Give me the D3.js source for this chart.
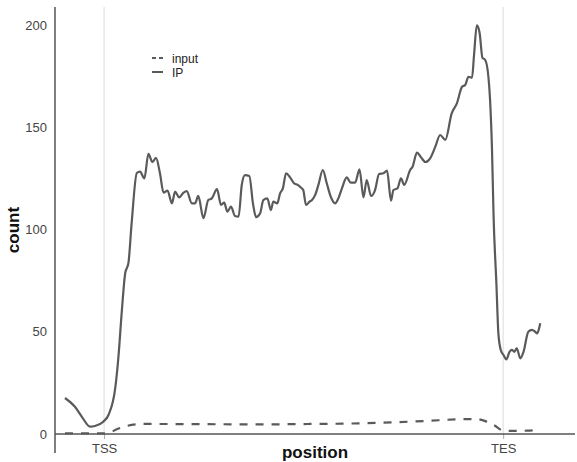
<!DOCTYPE html>
<html>
<head>
<meta charset="utf-8">
<script src="https://cdn.jsdelivr.net/npm/d3@7"></script>
<style>
  html, body { margin: 0; padding: 0; background: #fff; }
  svg { display: block; font-family: "Liberation Sans", Arial, Helvetica, sans-serif; }
</style>
</head>
<body>
<svg id="chart" width="577" height="462"></svg>
<script>
// Metagene profile: gene body scaled to 0..100 (TSS -> TES), 10 units of flank each side.
const ipPosition = [-9.8, -7.3, -5.6, -3.5, -2.3, -0.2, 1.1, 2.8, 3.6, 4.4, 5.3, 6.1, 6.9, 8.2, 9.0, 10.1, 11.1, 12.1, 13.0, 14.0,
  14.9, 15.9, 17.0, 17.8, 18.8, 19.9, 20.7, 22.0, 22.8, 23.6, 24.9, 26.1, 27.0, 28.3, 29.3, 30.1, 30.9, 31.8, 32.8, 33.7,
  34.5, 35.3, 36.4, 37.3, 38.1, 39.1, 39.9, 40.9, 41.8, 42.4, 43.4, 44.1, 44.8, 45.6, 46.6, 47.6, 48.5, 49.3, 49.9, 50.6,
  51.5, 52.1, 52.9, 53.7, 54.8, 55.8, 56.8, 57.9, 58.7, 59.6, 60.8, 61.8, 62.9, 64.0, 65.0, 65.8, 66.9, 67.9, 68.9, 70.0,
  70.9, 71.9, 72.5, 73.5, 74.4, 75.2, 76.7, 77.3, 78.4, 79.6, 80.5, 81.7, 83.0, 84.2, 85.5, 87.1, 88.4, 89.7, 90.5, 91.3,
  92.2, 92.7, 93.4, 94.1, 94.8, 95.5, 96.3, 96.7, 97.2, 97.6, 98.3, 98.8, 99.4, 100.1, 100.8, 101.6, 102.2, 102.8, 103.4, 104.3,
  105.1, 106.3, 107.2, 108.0, 108.5, 108.9, 109.3];
const ipCount = [17.6, 13.3, 8.5, 3.6, 3.9, 6.0, 9.3, 22.5, 37.8, 59.0, 78.7, 83.6, 103.0, 127.6, 128.3, 125.0, 137.0, 133.0, 135.0, 127.5,
  118.0, 119.0, 112.8, 118.5, 115.7, 118.0, 118.8, 112.8, 112.8, 116.4, 105.5, 114.4, 115.2, 119.7, 112.0, 113.1, 108.7, 111.2, 106.6, 106.3,
  121.8, 126.6, 126.2, 112.8, 106.0, 107.9, 114.4, 115.2, 109.5, 113.6, 112.8, 117.7, 120.1, 127.5, 125.5, 122.6, 121.8, 120.5, 119.3, 112.0,
  113.6, 114.4, 116.9, 121.8, 129.1, 122.6, 116.0, 112.8, 115.2, 120.1, 125.5, 122.9, 122.9, 129.4, 115.7, 124.2, 116.4, 119.3, 127.1, 127.5,
  128.8, 114.1, 119.3, 120.1, 125.0, 121.8, 129.1, 130.7, 137.6, 134.8, 133.0, 134.8, 140.5, 146.2, 143.8, 156.8, 161.7, 169.8, 170.7, 174.7,
  174.2, 185.3, 199.8, 196.1, 184.0, 182.9, 174.7, 164.0, 139.3, 106.3, 73.7, 49.2, 41.1, 38.6, 36.5, 40.2, 41.1, 40.2, 41.9, 37.0,
  40.2, 50.0, 50.9, 50.0, 49.2, 50.9, 54.1];

const inputPosition = [-9.8, -0.2, 1.5, 3.2, 5.7, 9.8, 24.1, 39.1, 51.6, 64.2, 72.5, 80.9, 89.2, 93.4, 95.9, 97.6, 100.1, 101.8, 106.0, 109.3];
const inputCount = [0.3, 0.3, 0.8, 2.3, 3.9, 4.9, 4.8, 4.7, 4.9, 5.2, 5.7, 6.4, 7.2, 7.3, 6.0, 4.4, 1.6, 1.5, 1.6, 2.3];

const yTicks = [0, 50, 100, 150, 200];
const xMarks = [0, 100];
const xMarkLabels = ["TSS", "TES"];
const seriesNames = ["input", "IP"];

const svg = d3.select("#chart");
const lineColor = "#5a5a5a";
const axisColor = "#555";

const x = d3.scaleLinear().domain([-12.3, 118]).range([55, 575]);
const y = d3.scaleLinear().domain([-9.3, 208.8]).range([453, 7]);

// TSS / TES guides
svg.append("g").selectAll("line").data(xMarks).join("line")
  .attr("x1", d => x(d)).attr("x2", d => x(d))
  .attr("y1", y.range()[1]).attr("y2", y(0))
  .attr("stroke", "#dcdcdc").attr("stroke-width", 1);

// y axis: labels only, with a long axis line
const yAxis = d3.axisLeft(y).tickValues(yTicks).tickSize(0).tickPadding(8);
const gy = svg.append("g").attr("transform", `translate(${x.range()[0]},0)`).call(yAxis);
gy.select(".domain").remove();
gy.selectAll("text").attr("font-size", 13).attr("fill", "#444")
  .attr("font-family", "Liberation Sans, Arial, sans-serif");
svg.append("line")
  .attr("x1", x.range()[0]).attr("x2", x.range()[0])
  .attr("y1", y.range()[1]).attr("y2", y.range()[0])
  .attr("stroke", axisColor).attr("stroke-width", 1.5);

// x axis at count = 0
const xAxis = d3.axisBottom(x).tickValues(xMarks).tickFormat((d, i) => xMarkLabels[i])
  .tickSize(5).tickPadding(5);
const gx = svg.append("g").attr("transform", `translate(0,${y(0)})`).call(xAxis);
gx.select(".domain").remove();
gx.selectAll(".tick line").attr("stroke", "#aaa");
gx.selectAll("text").attr("font-size", 13).attr("fill", "#444")
  .attr("font-family", "Liberation Sans, Arial, sans-serif");
svg.append("line")
  .attr("x1", x.range()[0]).attr("x2", x.range()[1])
  .attr("y1", y(0)).attr("y2", y(0))
  .attr("stroke", axisColor).attr("stroke-width", 1.5);

// axis titles
svg.append("text").attr("x", 315).attr("y", 458).attr("text-anchor", "middle")
  .attr("font-size", 17).attr("font-weight", "bold").attr("fill", "#111").text("position");
svg.append("text").attr("transform", "translate(19,230) rotate(-90)").attr("text-anchor", "middle")
  .attr("font-size", 17).attr("font-weight", "bold").attr("fill", "#111").text("count");

// series
const line = d3.line().x(d => x(d[0])).y(d => y(d[1])).curve(d3.curveMonotoneX);
const inputData = d3.zip(inputPosition, inputCount);
const ipData = d3.zip(ipPosition, ipCount);

svg.append("path").datum(inputData)
  .attr("d", line)
  .attr("fill", "none").attr("stroke", lineColor).attr("stroke-width", 2.2)
  .attr("stroke-dasharray", "8,8");

svg.append("path").datum(ipData)
  .attr("d", line)
  .attr("fill", "none").attr("stroke", lineColor).attr("stroke-width", 2.2)
  .attr("stroke-linejoin", "round");

// legend
const legend = svg.append("g").attr("transform", "translate(152,58)");
const items = legend.selectAll("g").data(seriesNames).join("g")
  .attr("transform", (d, i) => `translate(0,${i * 14})`);
items.append("line").attr("x1", 0).attr("x2", 11).attr("y1", 0).attr("y2", 0)
  .attr("stroke", lineColor).attr("stroke-width", 2)
  .attr("stroke-dasharray", (d, i) => i === 0 ? "4,3" : null);
items.append("text").attr("x", 20).attr("y", 4.5)
  .attr("font-size", 12).attr("fill", "#222").text(d => d);
</script>
</body>
</html>
